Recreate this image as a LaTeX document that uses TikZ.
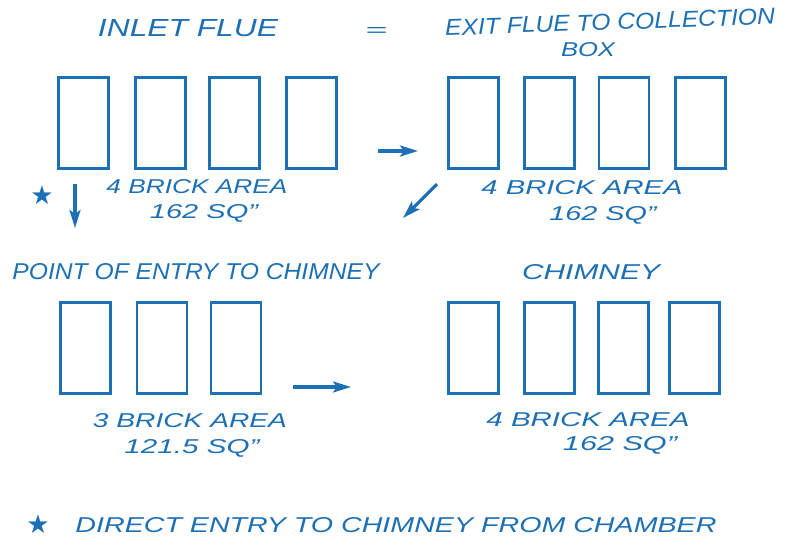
\documentclass[tikz,border=0pt]{standalone}
\usepackage{fontspec}
\setmainfont{Liberation Sans}
\newfontfamily\symfont{DejaVu Sans}
\usetikzlibrary{arrows.meta}
\definecolor{ink}{RGB}{30,112,180}
\newcommand{\hw}[3]{\resizebox{#1pt}{#2pt}{\itshape #3}}
\tikzset{
  brick/.style={draw=ink, line width=2.8pt, minimum width=50pt, minimum height=91pt, inner sep=0pt},
  lbl/.style={text=ink, inner sep=0pt},
  flow/.style={draw=ink, line width=3.2pt, -{Stealth[length=18pt,width=11pt,inset=4pt]}}
}
\begin{document}
\begin{tikzpicture}[x=1pt,y=-1pt]
\useasboundingbox (0,0) rectangle (787,542);
\fill[white] (0,0) rectangle (787,542);
% titles
\node[lbl] (t1) at (188,28) {\hw{180}{17}{INLET FLUE}};
\node[lbl] (eq) at (376,32) {\hw{22}{9}{=}};
\node[lbl, rotate=2] (t2) at (610,22) {\hw{330}{16}{EXIT FLUE TO COLLECTION}};
\node[lbl] (t3) at (588,50) {\hw{54}{14}{BOX}};
% top-left bricks
\node[brick] (a1) at (83.5,123) {};
\node[brick] (a2) at (160.5,123) {};
\node[brick] (a3) at (234.5,123) {};
\node[brick] (a4) at (311.5,123) {};
\node[lbl] (la1) at (197,187) {\hw{181}{14}{4 BRICK AREA}};
\node[lbl] (la2) at (204,213) {\hw{108}{14}{162 SQ"}};
% top-right bricks
\node[brick] (b1) at (473.5,123) {};
\node[brick] (b2) at (549.5,123) {};
\node[brick] (b3) at (624,123) {};
\node[brick] (b4) at (700.5,123) {};
\node[lbl] (lb1) at (582,188) {\hw{201}{14}{4 BRICK AREA}};
\node[lbl] (lb2) at (603,215) {\hw{107}{14}{162 SQ"}};
% arrows top
\coordinate (p1) at (378,151);
\coordinate (p2) at (418,151);
\draw[flow] (p1) -- (p2);
\coordinate (q1) at (437,184);
\coordinate (q2) at (403,218);
\draw[flow] (q1) -- (q2);
\coordinate (r1) at (75,184);
\coordinate (r2) at (75,228);
\draw[flow] (r1) -- (r2);
\node[lbl, font=\symfont\fontsize{26}{26}\selectfont] (star1) at (42,195) {★};
% bottom-left
\node[lbl] (t4) at (196,272) {\hw{367}{16}{POINT OF ENTRY TO CHIMNEY}};
\node[brick] (c1) at (85.5,348) {};
\node[brick] (c2) at (162,348) {};
\node[brick] (c3) at (236,348) {};
\node[lbl] (lc1) at (190,421) {\hw{194}{14}{3 BRICK AREA}};
\node[lbl] (lc2) at (192,448) {\hw{135}{14}{121.5 SQ"}};
\coordinate (s1) at (293,387);
\coordinate (s2) at (351,387);
\draw[flow] (s1) -- (s2);
% bottom-right
\node[lbl] (t5) at (591,272) {\hw{138}{15}{CHIMNEY}};
\node[brick] (d1) at (473.5,348) {};
\node[brick] (d2) at (549.5,348) {};
\node[brick] (d3) at (623.5,348) {};
\node[brick] (d4) at (694.5,348) {};
\node[lbl] (ld1) at (588,420) {\hw{203}{14}{4 BRICK AREA}};
\node[lbl] (ld2) at (620,445) {\hw{114}{14}{162 SQ"}};
% footnote
\node[lbl, font=\symfont\fontsize{26}{26}\selectfont] (star2) at (38,524) {★};
\node[lbl] (fn) at (396,525) {\hw{641}{15}{DIRECT ENTRY TO CHIMNEY FROM CHAMBER}};
\end{tikzpicture}
\end{document}
